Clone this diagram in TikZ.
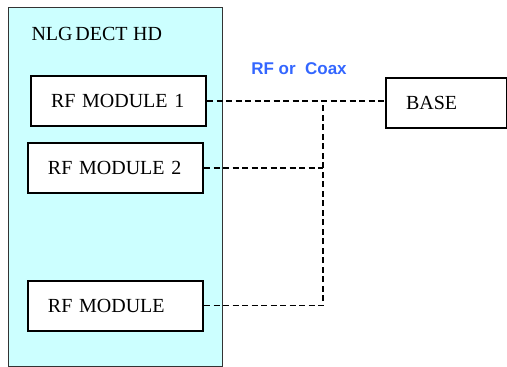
\documentclass[tikz,border=0pt]{standalone}
\usepackage{fontspec}
\setmainfont{Liberation Serif}[WordSpace=0.55]
\newfontfamily\arialfont{Liberation Sans}
\definecolor{hdcyan}{RGB}{204,255,255}
\definecolor{coaxblue}{RGB}{51,102,255}

\begin{document}
\begin{tikzpicture}[x=1pt, y=-1pt,
    hdbox/.style={draw=black!80, line width=1.3pt, fill=hdcyan, anchor=north west,
        minimum width=214pt, minimum height=359pt, inner sep=0pt},
    modbox/.style={draw=black, line width=2pt, fill=white, minimum height=50pt,
        text width=135pt, inner xsep=20pt, align=left,
        font=\fontsize{20}{22}\selectfont},
    link/.style={dashed, dash pattern=on 6pt off 3.5pt, line width=1.5pt}]
    \useasboundingbox (0,0) rectangle (507,367);

    % Handset frame
    \node[hdbox] (hd) at (8,7) {};
    \node[anchor=base west, font=\fontsize{20}{22}\selectfont] (title) at (28,40) {NLG DECT\ \ HD};

    % Modules
    \node[modbox] (rf1) at (118.5,101) {RF MODULE 1};
    \node[modbox] (rf2) at (115.5,168) {RF MODULE 2};
    \node[modbox] (rf3) at (115.5,305.5) {RF MODULE};

    % Base station
    \node[modbox, anchor=north west, text width=81pt] (base) at (385,77) {BASE};

    % Cabling
    \node[font=\arialfont\bfseries\fontsize{17}{20}\selectfont, text=coaxblue] (coax) at (299,69) {RF or\ \ Coax};
    \coordinate (jn) at (323,101);
    \draw[link] (rf1.east) -- (rf1.east -| base.west);
    \draw[link] (rf2.east) -- (rf2.east -| jn);
    \draw[link] (rf3.east) -- (rf3.east -| jn) -- (jn);
\end{tikzpicture}
\end{document}
